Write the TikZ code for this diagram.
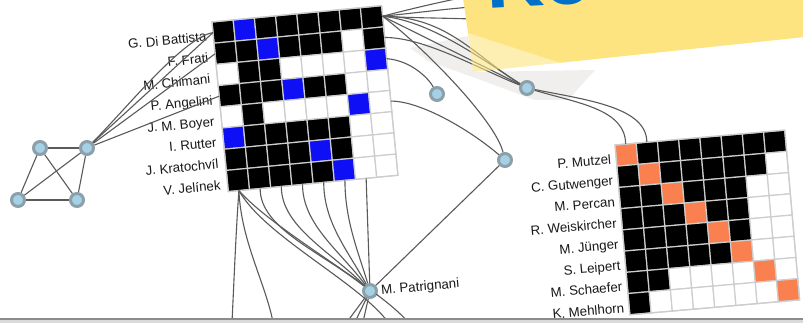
\documentclass[tikz,border=0pt]{standalone}
\usepackage{fontspec}
\setmainfont{Liberation Sans}
\definecolor{edgegray}{RGB}{90,90,90}
\definecolor{nodefill}{RGB}{165,208,230}
\definecolor{noderim}{RGB}{140,160,170}
\definecolor{labelcol}{RGB}{25,25,25}
\definecolor{gridgray}{RGB}{205,205,205}
\definecolor{mk}{RGB}{0,0,0}
\definecolor{mb}{RGB}{15,15,245}
\definecolor{mw}{RGB}{255,255,255}
\definecolor{mo}{RGB}{250,128,80}
\definecolor{stickyyellow}{RGB}{253,228,128}
\definecolor{shadowgray}{RGB}{241,239,238}
\definecolor{koblue}{RGB}{0,112,200}
\definecolor{bandline}{RGB}{140,140,140}
\definecolor{bandfill}{RGB}{218,218,218}
\newcommand\mcell{21.3}
\begin{document}
\begin{tikzpicture}[x=1pt,y=-1pt,
  edge/.style={draw=edgegray, line width=1.1pt},
  gnode/.style={circle, minimum size=14pt, inner sep=0pt, fill=nodefill, draw=noderim, line width=2pt},
  lbl/.style={text=labelcol, font=\fontsize{13.3}{16}\selectfont, inner sep=0pt},
  cellbox/.style={draw=gridgray, line width=1.2pt},
]
\useasboundingbox (0,0) rectangle (803,323);
\clip (0,0) rectangle (803,323);
\fill[white] (0,0) rectangle (803,323);

% soft shadow under the sticky note
\fill[shadowgray] (410,48) -- (468,36) -- (473,72) -- (595,70) -- (568,100)
  -- (535,100) -- (470,76) -- (430,62) -- cycle;

% ---- left matrix ----
\begin{scope}[shift={(212,22)}, rotate=5.5]
  \foreach \row [count=\j from 0] in {{k,b,k,k,k,k,k,k},{k,k,b,k,k,k,w,k},{w,k,k,w,w,w,w,b},{k,k,k,b,k,k,w,w},{w,k,w,w,w,w,b,w},{b,k,k,k,k,k,w,w},{k,k,k,k,b,k,w,w},{k,k,k,k,k,b,w,w}}
    \foreach \c [count=\i from 0] in \row
      \filldraw[cellbox, fill=m\c] (\i*\mcell, \j*\mcell) rectangle ++(\mcell,\mcell);
  \draw[cellbox] (0,0) rectangle (8*\mcell, 8*\mcell);
  \foreach \k in {1,...,8} {
    \coordinate (LA\k) at (0, {(\k-0.5)*\mcell});
    \coordinate (RA\k) at (8*\mcell, {(\k-0.5)*\mcell});
    \coordinate (BA\k) at ({(\k-0.5)*\mcell}, 8*\mcell);
  }
  \foreach \name [count=\j from 0] in {G. Di Battista, F. Frati, M. Chimani, P. Angelini, J. M. Boyer, I. Rutter, J. Kratochvíl, V. Jelínek}
    \node[lbl, anchor=base east, rotate=5.5] (ll\j) at (-7, {(\j+0.5)*\mcell+8}) {\name};
\end{scope}

% ---- right matrix ----
\begin{scope}[shift={(615,145)}, rotate=5]
  \foreach \row [count=\j from 0] in {{o,k,k,k,k,k,k,k},{k,o,k,k,k,k,k,w},{k,k,o,k,k,k,w,w},{k,k,k,o,k,k,w,w},{k,k,k,k,o,k,w,w},{k,k,k,k,k,o,w,w},{k,k,w,w,w,w,o,w},{k,w,w,w,w,w,w,o}}
    \foreach \c [count=\i from 0] in \row
      \filldraw[cellbox, fill=m\c] (\i*\mcell, \j*\mcell) rectangle ++(\mcell,\mcell);
  \draw[cellbox] (0,0) rectangle (8*\mcell, 8*\mcell);
  \foreach \k in {1,...,8}
    \coordinate (TB\k) at ({(\k-0.5)*\mcell}, 0);
  \foreach \name [count=\j from 0] in {P. Mutzel, C. Gutwenger, M. Percan, R. Weiskircher, M. Jünger, S. Leipert, M. Schaefer, K. Mehlhorn}
    \node[lbl, anchor=base east, rotate=5] (rl\j) at (-5, {(\j+0.5)*\mcell+8}) {\name};
\end{scope}

% ---- graph nodes ----
\node[gnode] (a) at (40,148) {};
\node[gnode] (b) at (87,148) {};
\node[gnode] (c) at (18,200) {};
\node[gnode] (d) at (77,200) {};
\node[gnode] (e) at (437,94) {};
\node[gnode] (g) at (527,88) {};
\node[gnode] (f) at (505,160) {};
\node[gnode] (p) at (370,291) {};
\node[lbl, anchor=west, rotate=5] (plabel) at (381,291) {M. Patrignani};

% loose ends: under the note and past the lower border
\coordinate (t1) at (485,-6);
\coordinate (t2) at (490,6);
\coordinate (t3) at (488,20);
\coordinate (z1) at (232,322);
\coordinate (z2) at (273,322);
\coordinate (z3) at (388,322);
\coordinate (z4) at (408,322);
\coordinate (z5) at (347,322);
\coordinate (z6) at (355,322);
\coordinate (z7) at (363,322);

% clique on the left
\draw[edge] (a) -- (b);
\draw[edge] (a) -- (c);
\draw[edge] (a) -- (d);
\draw[edge] (b) -- (c);
\draw[edge] (b) -- (d);
\draw[edge] (c) -- (d);
% clique to matrix rows
\draw[edge] (b) -- (LA1);
\draw[edge] (b) .. controls +(40,-40) and +(-30,5) .. (LA1);
\draw[edge] (b) -- (LA2);
\draw[edge] (b) -- (LA4);
% right side of the left matrix
\draw[edge] (RA1) .. controls +(30,-8) and +(-20,2) .. (t1);
\draw[edge] (RA1) .. controls +(30,-3) and +(-20,0) .. (t2);
\draw[edge] (RA1) .. controls +(30,2) and +(-20,-2) .. (t3);
\draw[edge] (RA1) -- (g);
\draw[edge] (RA1) .. controls +(50,5) and +(-40,-25) .. (g);
\draw[edge] (RA1) .. controls +(65,0) and +(-50,-30) .. (g);
\draw[edge] (RA2) .. controls +(40,0) and +(-50,-20) .. (g);
\draw[edge] (RA1) .. controls +(40,30) and +(-10,-40) .. (f);
\draw[edge] (RA3) .. controls +(25,2) and +(-8,-15) .. (e);
\draw[edge] (RA5) .. controls +(30,0) and +(-35,-30) .. (f);
\draw[edge] (g) .. controls +(50,15) and +(0,-35) .. (TB1);
\draw[edge] (g) .. controls +(60,12) and +(0,-35) .. (TB2);
\draw[edge] (f) -- (p);
% bottom of the left matrix
\draw[edge] (BA1) .. controls +(-3,40) and +(2,-40) .. (z1);
\draw[edge] (BA1) .. controls +(2,50) and +(-8,-40) .. (z2);
\draw[edge] (BA1) .. controls +(25,45) and +(-30,-40) .. (z3);
\draw[edge] (BA1) .. controls +(35,40) and +(-30,-35) .. (z4);
\foreach \k/\dx in {2/-50,3/-40,4/-30,5/-22,6/-12}
  \draw[edge] (BA\k) .. controls +(0,40) and +(\dx,-40) .. (p);
\draw[edge] (BA7) -- (p);
\draw[edge] (p) -- (z5);
\draw[edge] (p) -- (z6);
\draw[edge] (p) -- (z7);

% node discs redrawn on top of their edges
\foreach \n in {a,b,c,d,e,g,f,p}
  \filldraw[fill=nodefill, draw=noderim, line width=2pt] (\n) circle (6pt);

% ---- sticky note ----
\fill[stickyyellow] (463,-2) -- (805,-2) -- (805,37) -- (560,62.8) -- (468,33) -- cycle;
\fill[stickyyellow, fill opacity=0.6] (468,33) -- (560,62.8) -- (473,72) -- cycle;
\node[anchor=base west, rotate=3, text=koblue, inner sep=0pt,
  font=\fontsize{80}{80}\selectfont\bfseries] (ko) at (487,9) {Ko};

% lower border of the slide
\fill[bandfill] (0,319) rectangle (803,323);
\draw[bandline, line width=1.5pt] (0,319) -- (803,319);
\end{tikzpicture}
\end{document}
